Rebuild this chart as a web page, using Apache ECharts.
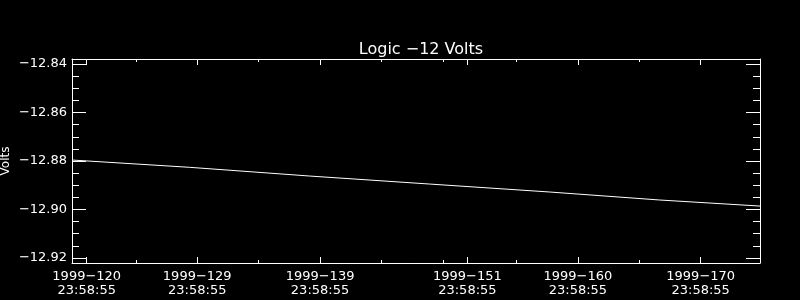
<!DOCTYPE html>
<html>
<head>
<meta charset="utf-8">
<script src="https://cdn.jsdelivr.net/npm/echarts@6/dist/echarts.min.js"></script>
<style>
html,body{margin:0;padding:0;background:#000;}
#chart{width:800px;height:300px;}
</style>
</head>
<body>
<div id="chart"></div>
<script>
// Data: time in day-of-year 1999 (fractional), values in volts
var seriesDays = [118.80, 128.36, 138.14, 147.90, 157.70, 166.66, 174.83];
var seriesVolts = [-12.8796, -12.8826, -12.8862, -12.8895, -12.8928, -12.8961, -12.8986];

var xMin = 118.80, xMax = 174.83;
var xMajorTicks = [120, 129, 139, 151, 160, 170];
var xMajorLabels = ['1999\u2212120\n23:58:55', '1999\u2212129\n23:58:55', '1999\u2212139\n23:58:55',
                    '1999\u2212151\n23:58:55', '1999\u2212160\n23:58:55', '1999\u2212170\n23:58:55'];
var xMinorTicks = [124.03, 133.99, 143.98, 149.0, 154.95, 164.97];

var yMin = -12.9221, yMax = -12.8379;
var yMajorTicks = [-12.92, -12.90, -12.88, -12.86, -12.84];
var yMajorLabels = ['\u221212.92', '\u221212.90', '\u221212.88', '\u221212.86', '\u221212.84'];
var yMinorTicks = [-12.915, -12.91, -12.905, -12.895, -12.89, -12.885, -12.875, -12.87, -12.865, -12.855, -12.85, -12.845];

var titleText = 'Logic \u221212 Volts';
var yName = 'Volts';

var FONT = 'DejaVu Sans';
var WHITE = '#ffffff';

function xAx(pos, ticks, len, showLine, labels) {
  return {
    type: 'value', position: pos, min: xMin, max: xMax,
    axisLine: {show: showLine, onZero: false, lineStyle: {color: WHITE, width: 1}},
    axisTick: {show: true, inside: true, length: len, customValues: ticks, lineStyle: {color: WHITE, width: 1}},
    axisLabel: labels ? {
      show: true, customValues: xMajorTicks, color: WHITE, fontFamily: FONT, fontSize: 13,
      lineHeight: 14, margin: 7,
      formatter: function (v) {
        for (var i = 0; i < xMajorTicks.length; i++) if (Math.abs(xMajorTicks[i] - v) < 1e-6) return xMajorLabels[i];
        return '';
      }
    } : {show: false},
    splitLine: {show: false}
  };
}
function yAx(pos, ticks, len, showLine, labels) {
  var a = {
    type: 'value', position: pos, min: yMin, max: yMax,
    axisLine: {show: showLine, onZero: false, lineStyle: {color: WHITE, width: 1}},
    axisTick: {show: true, inside: true, length: len, customValues: ticks, lineStyle: {color: WHITE, width: 1}},
    axisLabel: labels ? {
      show: true, customValues: yMajorTicks, color: WHITE, fontFamily: FONT, fontSize: 13, margin: 5,
      formatter: function (v) {
        for (var i = 0; i < yMajorTicks.length; i++) if (Math.abs(yMajorTicks[i] - v) < 1e-6) return yMajorLabels[i];
        return '';
      }
    } : {show: false},
    splitLine: {show: false}
  };
  if (labels) {
    a.name = yName;
    a.nameLocation = 'middle';
    a.nameGap = 60;
    a.nameRotate = 90;
    a.nameMoveOverlap = false;
    a.nameTextStyle = {color: WHITE, fontFamily: FONT, fontSize: 12};
  }
  return a;
}

var data = seriesDays.map(function (d, i) { return [d, seriesVolts[i]]; });

var chart = echarts.init(document.getElementById('chart'), null, {renderer: 'canvas'});
chart.setOption({
  backgroundColor: '#000000',
  animation: false,
  title: {
    text: titleText, left: 416, top: 37, textAlign: 'center',
    textStyle: {color: WHITE, fontFamily: FONT, fontSize: 16, fontWeight: 'normal'}
  },
  grid: {left: 72, top: 59, right: 40, bottom: 37, containLabel: false, outerBoundsMode: 'none'},
  xAxis: [
    xAx('bottom', xMajorTicks, 6, true, true),
    xAx('bottom', xMinorTicks, 3, false, false),
    xAx('top', xMajorTicks, 6, true, false),
    xAx('top', xMinorTicks, 3, false, false)
  ],
  yAxis: [
    yAx('left', yMajorTicks, 14, true, true),
    yAx('left', yMinorTicks, 7, false, false),
    yAx('right', yMajorTicks, 14, true, false),
    yAx('right', yMinorTicks, 7, false, false)
  ],
  series: [{
    type: 'line', xAxisIndex: 0, yAxisIndex: 0, data: data,
    showSymbol: false, symbol: 'none',
    lineStyle: {color: WHITE, width: 1}
  }]
});
</script>
</body>
</html>
